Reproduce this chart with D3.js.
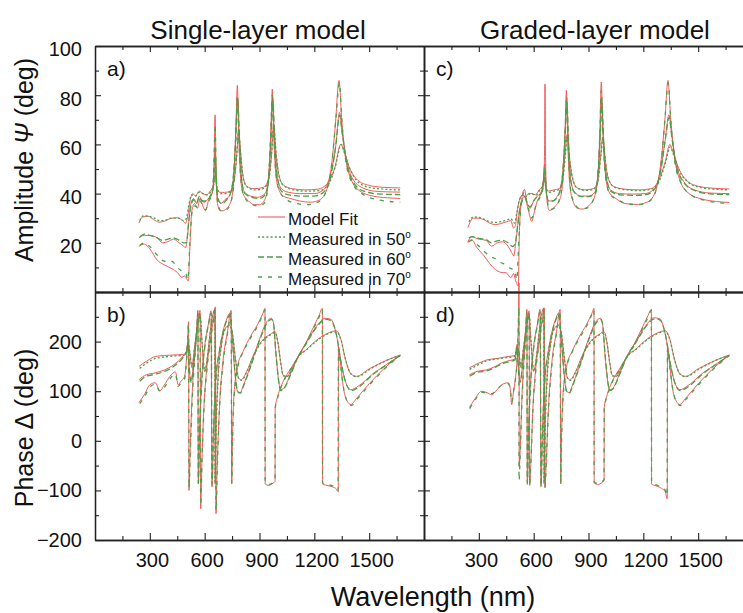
<!DOCTYPE html>
<html><head><meta charset="utf-8">
<script src="https://cdn.jsdelivr.net/npm/d3@7"></script>
<style>body{margin:0;background:#fff}svg{display:block}</style>
</head><body><svg id="c" width="743" height="613"></svg>
<script>
// ---------------- DATA ----------------
const panelTitles = ["Single-layer model", "Graded-layer model"];
const panelLetters = ["a)", "b)", "c)", "d)"];
const wavelengthTicks = [300, 600, 900, 1200, 1500];
const wavelengthMinor = [150, 450, 750, 1050, 1350, 1650];
const psiTicks = [20, 40, 60, 80, 100];
const psiMinor = [10, 30, 50, 70, 90];
const deltaTicks = [-200, -100, 0, 100, 200];
const deltaMinor = [-150, -50, 50, 150, 250];
const legendLabels = ["Model Fit", "Measured in 50", "Measured in 60", "Measured in 70"];

// Panel a : Psi, single-layer model
const psiSingleFit70 = [[240,18.5],[270,19.5],[300,17.5],[340,13],[380,11],[420,9.5],[450,8],[475,6],[490,6.5],[500,5.5],[510,4.5],[520,20],[530,33],[545,36],[560,34],[575,38],[590,35],[605,33],[620,37],[635,39],[645,42],[652,55],[657,72],[662,50],[670,36],[685,33],[700,33],[720,34],[740,36],[755,42],[765,55],[772,70],[779,84],[786,65],[795,48],[810,40],[840,37],[870,35.5],[900,35.5],[925,37],[945,43],[958,58],[965,72],[970,82.5],[976,68],[985,52],[1000,43],[1030,39],[1070,38],[1120,37],[1180,36.5],[1230,37.5],[1270,42],[1295,52],[1315,68],[1335,86],[1350,70],[1370,55],[1400,46],[1450,41],[1520,39],[1600,38.3],[1670,38]];
const psiSingleFit60 = [[240,22],[270,23],[300,23],[340,22],[370,20],[400,20.5],[430,21.5],[460,20],[480,19],[495,18],[505,22],[515,30],[525,36],[540,38],[555,36],[570,39],[585,37],[600,36.5],[620,38],[640,40],[650,46],[657,58],[664,44],[675,37],[690,36],[710,37.5],[735,39],[755,45],[768,60],[780,79],[790,62],[800,48],[815,41],[850,39],[890,38.5],[930,40],[950,46],[962,62],[972,79],[982,62],[995,48],[1020,42],[1060,40.5],[1120,40],[1200,40],[1250,41.5],[1285,47],[1315,58],[1338,73],[1350,66],[1375,54],[1410,46],[1460,42.5],[1530,41],[1600,40.7],[1670,40.6]];
const psiSingleFit50 = [[240,28],[260,30.5],[290,30.8],[320,29.5],[350,28.4],[380,28.8],[410,29.8],[450,30.2],[480,29],[495,28],[505,30],[520,37],[535,40],[550,39],[570,41],[590,40],[610,39.5],[630,41],[648,43],[658,48],[668,42],[685,40.5],[710,40.5],[740,41],[760,45],[775,55],[785,66],[795,58],[810,47],[830,43],[870,42],[920,42.5],[950,46],[965,55],[977,68],[990,57],[1005,48],[1030,43.5],[1080,42],[1150,41.5],[1220,41.8],[1270,44],[1310,50],[1345,60],[1360,58],[1390,51],[1430,46],[1490,43.5],[1570,42.6],[1670,42.3]];
const psiSingleMeas70 = [[245,19],[270,20],[300,18.5],[340,15],[380,12.5],[420,12.5],[450,10],[475,8.5],[495,8],[508,5],[518,18],[530,32],[545,35],[560,34.5],[575,37],[590,35],[605,33.5],[620,36.5],[640,40],[650,50],[657,68],[663,48],[672,36],[690,33],[720,33.5],[745,37],[760,44],[770,60],[779,80],[787,63],[797,47],[815,39],[850,36],[890,35],[925,36],[945,42],[960,62],[970,80],[978,66],[990,48],[1010,41],[1050,37.5],[1100,36],[1160,35.5],[1220,36.5],[1265,41],[1295,52],[1320,72],[1337,85],[1352,68],[1375,52],[1410,44],[1470,39.5],[1550,37.5],[1670,36.5]];
const psiSingleMeas60 = [[245,22.5],[270,23.5],[300,23],[340,22],[370,21],[400,21.5],[430,22],[460,21],[485,20],[500,20],[512,28],[525,35],[540,37.5],[555,36],[570,38.5],[590,37],[610,37],[630,39],[645,42],[653,50],[658,56],[665,43],[678,37],[695,36],[720,37.5],[745,41],[760,50],[772,66],[781,78],[791,61],[802,46],[820,40],[860,38.5],[900,38],[935,40],[952,48],[964,64],[973,78],[983,61],[997,47],[1020,41],[1060,39.5],[1130,39],[1200,39],[1250,40.5],[1290,47],[1318,60],[1339,72],[1352,65],[1378,52],[1415,44.5],[1470,41],[1560,39.8],[1670,39.6]];
const psiSingleMeas50 = [[245,29],[265,31],[295,30.8],[325,30],[355,29],[385,29.2],[415,30],[455,30],[485,29],[500,30],[515,36],[530,39.5],[550,39],[570,40.5],[590,40],[615,39.5],[635,41],[650,44],[659,49],[669,42],[688,40],[715,40],[742,41],[762,46],[776,56],[786,65],[796,57],[812,46],[835,42.5],[875,41.5],[920,42],[950,45.5],[966,56],[978,67],[991,56],[1007,47],[1035,43],[1090,41.5],[1160,41],[1225,41.2],[1275,43.5],[1315,51],[1347,60],[1362,57],[1395,50],[1435,45],[1500,42.5],[1580,41.8],[1670,41.5]];

// Panel b : Delta, single-layer model
const deltaSingleFit70 = [[240,77],[270,93],[300,113],[330,117],[355,101],[380,113],[410,130],[440,139],[455,113],[470,120],[490,130],[505,190],[512,240],[514,-100],[520,-30],[530,80],[545,170],[560,230],[575,263],[578,-137],[585,-40],[595,60],[610,140],[630,200],[650,250],[658,270],[662,-147],[668,-60],[680,60],[700,160],[725,220],[745,263],[748,-87],[752,0],[760,90],[780,150],[810,180],[850,210],[890,235],[920,258],[930,267],[931,-87],[950,-90],[975,-85],[985,-82],[986,67],[1000,90],[1030,120],[1070,145],[1107,167],[1150,195],[1190,225],[1225,252],[1244,267],[1245,-87],[1270,-90],[1300,-93],[1320,-97],[1331,-103],[1332,190],[1345,150],[1360,105],[1380,80],[1400,73],[1430,85],[1500,115],[1580,145],[1670,173]];
const deltaSingleFit60 = [[240,123],[280,133],[330,137],[380,143],[430,153],[480,170],[500,180],[510,200],[515,150],[525,120],[540,160],[555,220],[563,263],[565,-87],[572,20],[585,130],[600,190],[620,235],[635,262],[640,-93],[648,20],[660,120],[680,180],[700,220],[720,245],[738,257],[750,210],[765,140],[780,100],[795,97],[810,110],[850,150],[900,205],[940,240],[965,247],[975,240],[990,175],[1005,120],[1015,103],[1030,105],[1070,135],[1107,167],[1160,200],[1210,230],[1260,247],[1290,245],[1320,215],[1345,160],[1370,120],[1400,103],[1440,110],[1520,135],[1600,155],[1670,173]];
const deltaSingleFit50 = [[240,150],[280,160],[330,170],[380,172],[430,173],[480,174],[500,180],[510,200],[518,180],[530,150],[545,190],[560,230],[575,255],[585,200],[600,140],[615,170],[630,220],[645,255],[655,265],[657,-87],[662,20],[672,120],[690,190],[710,225],[735,233],[750,220],[770,160],[785,127],[800,123],[830,140],[870,175],[910,200],[960,215],[985,220],[1000,200],[1015,160],[1030,132],[1050,130],[1080,148],[1107,167],[1160,185],[1220,205],[1280,218],[1320,222],[1345,205],[1370,165],[1400,135],[1430,130],[1500,145],[1600,163],[1670,173]];
const deltaSingleMeas70 = [[245,75],[270,88],[300,108],[330,114],[355,100],[380,108],[410,125],[440,135],[455,110],[470,116],[490,125],[505,185],[512,235],[514,-95],[521,-25],[532,82],[547,172],[562,232],[575,258],[578,-130],[586,-35],[596,62],[612,142],[632,202],[650,248],[658,265],[662,-140],[669,-55],[681,62],[702,160],[726,218],[745,258],[748,-85],[753,5],[762,92],[782,150],[812,180],[852,208],[892,233],[920,256],[930,264],[931,-85],[950,-88],[975,-84],[985,-80],[986,65],[1002,90],[1032,120],[1072,145],[1107,166],[1152,194],[1192,224],[1227,250],[1244,264],[1245,-85],[1270,-88],[1300,-91],[1320,-95],[1330,-100],[1332,185],[1346,145],[1362,102],[1382,78],[1402,71],[1432,83],[1502,113],[1582,144],[1670,172]];
const deltaSingleMeas60 = [[245,120],[280,130],[330,134],[380,140],[430,150],[480,167],[500,177],[510,196],[516,148],[526,118],[541,160],[556,218],[563,258],[565,-85],[573,22],[586,130],[601,190],[621,234],[636,258],[640,-88],[649,22],[661,120],[681,180],[701,219],[721,243],[738,254],[751,208],[766,138],[781,99],[796,96],[812,110],[852,150],[902,204],[942,238],[965,245],[976,238],[991,172],[1006,118],[1016,101],[1032,104],[1072,135],[1107,166],[1162,200],[1212,229],[1262,245],[1290,243],[1322,212],[1347,157],[1372,117],[1402,101],[1442,108],[1522,134],[1602,155],[1670,172]];
const deltaSingleMeas50 = [[245,146],[280,156],[330,166],[380,169],[430,171],[480,172],[500,178],[510,197],[519,178],[531,148],[546,190],[561,229],[575,252],[586,198],[601,140],[616,170],[631,219],[646,253],[655,262],[657,-85],[663,22],[673,120],[691,190],[711,224],[736,231],[751,218],[771,158],[786,126],[801,122],[832,140],[872,175],[912,199],[962,214],[985,218],[1001,198],[1016,158],[1031,131],[1052,130],[1082,148],[1107,166],[1162,185],[1222,204],[1282,217],[1320,220],[1346,203],[1371,163],[1402,134],[1432,129],[1502,144],[1602,163],[1670,172]];

// Panel c : Psi, graded-layer model
const psiGradedFit70 = [[240,20],[260,21.3],[290,18],[330,14.6],[360,11.5],[390,9.2],[420,8],[450,7.8],[475,5.8],[490,7.5],[500,5],[510,3],[516,2.4],[522,25],[535,38],[550,41.7],[562,36],[575,32],[590,28.7],[605,33],[620,37],[640,40],[655,45],[660,60],[662,84.5],[665,55],[672,38],[685,33.2],[700,33.5],[720,35],[745,38],[762,48],[772,65],[779,82],[787,60],[797,44],[815,37],[840,34],[870,33.7],[900,35],[930,38],[950,46],[962,65],[970,85.4],[978,66],[990,50],[1010,41],[1050,38],[1100,36],[1160,35.6],[1220,36.5],[1265,40.5],[1295,52],[1318,70],[1335,86],[1350,70],[1370,55],[1400,45.5],[1450,40],[1520,37.8],[1600,36.8],[1670,36.4]];
const psiGradedFit60 = [[240,20.4],[260,22.4],[300,21.5],[340,21],[370,18.6],[400,20],[430,20.4],[460,18.6],[480,16],[492,14.6],[500,19],[510,25],[522,33],[535,37],[550,39],[565,36],[580,34],[600,37],[620,39],[640,40.5],[652,44],[660,52],[667,42],[680,37],[700,37],[725,38.5],[750,43],[765,55],[775,70],[781,79],[790,62],[800,47],[820,41],[860,39],[900,39],[935,40.5],[952,48],[963,62],[972,78],[982,62],[995,48],[1020,41.5],[1070,40],[1140,39.8],[1210,40],[1260,42],[1295,50],[1320,62],[1340,72],[1355,64],[1380,52],[1420,45],[1480,41.5],[1570,40.2],[1670,40]];
const psiGradedFit50 = [[240,26.1],[270,30],[300,30],[330,29.3],[360,28],[390,27.4],[420,27.8],[450,28.5],[475,29],[490,26],[500,27],[510,33],[525,38],[540,39.5],[555,38.5],[570,40],[590,40],[610,39.5],[630,41.5],[648,43],[657,47],[665,43],[680,41],[710,41.5],[740,42],[758,46],[772,56],[783,64],[794,56],[810,47],[835,42.5],[880,41.5],[925,42],[950,45],[966,55],[978,63],[990,55],[1005,47],[1035,43],[1100,41.8],[1180,41.5],[1240,42],[1285,45.5],[1320,53],[1345,60],[1362,57],[1395,50],[1435,45.5],[1500,43],[1580,42.2],[1670,41.9]];
const psiGradedMeas70 = [[245,20.5],[265,21],[295,19],[330,16.5],[360,14.6],[390,13.5],[420,12],[450,11],[475,9.5],[495,9],[508,5],[518,20],[532,36],[548,40.5],[562,36.5],[575,33],[590,30],[605,33.5],[620,36.5],[640,39.5],[655,44],[660,51],[665,46],[673,38],[688,33.5],[710,34],[740,37.5],[760,46],[771,62],[779,78],[788,60],[800,43],[820,36.5],[850,34],[885,34],[920,36.5],[948,44],[962,64],[970,82],[979,64],[992,48],[1015,40],[1060,37.5],[1120,35.8],[1180,35.5],[1235,37],[1270,41.5],[1300,54],[1320,72],[1336,85],[1351,69],[1372,53],[1405,44.5],[1460,39.5],[1540,37.2],[1670,36]];
const psiGradedMeas60 = [[245,22],[265,22.5],[300,21.8],[340,21.3],[370,20],[400,20.8],[430,21],[460,20],[485,18.5],[500,20],[512,27],[525,34],[540,37.5],[552,38.5],[566,36],[580,34.5],[600,37],[620,38.8],[640,40],[653,44.5],[660,50],[668,42],[682,37],[705,37],[730,38.5],[752,44],[766,56],[776,70],[782,77],[791,60],[802,46],[822,40.5],[860,38.8],[900,38.8],[935,40.2],[953,48.5],[964,63],[973,77],[983,61],[997,47],[1022,41],[1075,39.5],[1150,39.3],[1215,39.6],[1262,41.8],[1297,50],[1322,63],[1341,71],[1356,63],[1382,51],[1425,44.2],[1490,41],[1580,39.8],[1670,39.6]];
const psiGradedMeas50 = [[245,28.5],[270,30.5],[300,30.3],[330,29.5],[360,28.6],[390,28.3],[420,28.6],[450,29.2],[475,29.8],[495,28],[508,32],[522,37.5],[540,39.3],[556,38.6],[572,39.8],[592,39.8],[612,39.3],[632,41.2],[650,43.2],[659,46],[667,42.5],[684,40.5],[712,41],[742,41.8],[760,46],[774,56],[784,63],[795,55],[812,46.5],[838,42.3],[885,41.3],[928,41.8],[952,45],[967,55],[979,62],[991,54],[1007,46.5],[1040,42.7],[1110,41.5],[1190,41.2],[1245,41.8],[1290,45.5],[1323,53],[1347,59],[1364,56],[1398,49],[1440,45],[1510,42.5],[1590,41.8],[1670,41.5]];

// Panel d : Delta, graded-layer model
const deltaGradedFit70 = [[248,67],[280,85],[315,100],[345,97],[370,93],[400,103],[425,113],[461,117],[472,105],[480,73],[490,100],[500,125],[510,170],[516,235],[520,318],[521,-53],[527,-10],[535,80],[548,170],[562,230],[575,262],[578,-90],[585,-40],[595,60],[610,140],[630,200],[650,250],[658,268],[662,-95],[668,-50],[680,60],[700,160],[725,220],[745,265],[748,-87],[752,0],[760,90],[780,150],[810,180],[850,210],[890,235],[920,258],[930,267],[931,-85],[950,-88],[975,-84],[985,-80],[986,67],[1000,90],[1030,120],[1070,145],[1107,168],[1150,195],[1190,225],[1225,252],[1244,265],[1245,-87],[1270,-91],[1300,-96],[1320,-103],[1331,-117],[1332,190],[1345,150],[1360,105],[1380,80],[1400,73],[1430,85],[1500,115],[1580,145],[1670,173]];
const deltaGradedFit60 = [[248,133],[290,140],[343,143],[390,150],[425,157],[470,162],[498,165],[510,190],[516,150],[526,120],[541,160],[555,220],[563,265],[565,-88],[572,20],[585,130],[600,190],[620,235],[635,265],[640,-93],[648,20],[660,120],[680,180],[700,220],[720,245],[738,258],[750,210],[765,140],[780,100],[795,97],[810,110],[850,150],[900,205],[940,240],[965,247],[975,240],[990,175],[1005,120],[1015,103],[1030,105],[1070,135],[1107,168],[1160,200],[1210,230],[1260,248],[1290,246],[1320,215],[1345,160],[1370,120],[1400,103],[1440,110],[1520,135],[1600,155],[1670,173]];
const deltaGradedFit50 = [[248,147],[290,155],[343,163],[400,166],[461,170],[498,172],[510,195],[518,180],[530,150],[545,190],[560,230],[575,258],[585,200],[600,140],[615,170],[630,220],[645,258],[655,268],[657,-87],[662,20],[672,120],[690,190],[710,225],[735,233],[750,220],[770,160],[785,127],[800,123],[830,140],[870,175],[910,200],[960,215],[985,220],[1000,200],[1015,160],[1030,132],[1050,130],[1080,148],[1107,168],[1160,185],[1220,205],[1280,218],[1320,222],[1345,205],[1370,165],[1400,135],[1430,130],[1500,145],[1600,163],[1670,173]];
const deltaGradedMeas70 = [[250,65],[280,83],[315,98],[345,96],[370,95],[400,104],[425,112],[461,115],[472,104],[480,78],[490,100],[500,123],[510,168],[516,230],[519,270],[520,-80],[527,-20],[536,78],[549,168],[563,228],[575,258],[578,-88],[586,-35],[596,62],[612,142],[632,202],[650,248],[658,264],[662,-92],[669,-45],[681,62],[702,160],[726,218],[745,262],[748,-85],[753,5],[762,92],[782,150],[812,180],[852,208],[892,233],[920,256],[930,264],[931,-83],[950,-86],[975,-82],[985,-78],[986,65],[1002,90],[1032,120],[1072,145],[1107,167],[1152,194],[1192,224],[1227,250],[1244,263],[1245,-85],[1270,-89],[1300,-94],[1320,-100],[1330,-110],[1332,185],[1346,145],[1362,102],[1382,78],[1402,71],[1432,83],[1502,113],[1582,144],[1670,172]];
const deltaGradedMeas60 = [[250,130],[290,138],[343,141],[390,148],[425,155],[470,160],[498,163],[510,186],[516,148],[526,118],[541,160],[556,218],[563,260],[565,-85],[573,22],[586,130],[601,190],[621,234],[636,260],[640,-90],[649,22],[661,120],[681,180],[701,219],[721,243],[738,255],[751,208],[766,138],[781,99],[796,96],[812,110],[852,150],[902,204],[942,238],[965,245],[976,238],[991,172],[1006,118],[1016,101],[1032,104],[1072,135],[1107,167],[1162,200],[1212,229],[1262,246],[1290,244],[1322,212],[1347,157],[1372,117],[1402,101],[1442,108],[1522,134],[1602,155],[1670,172]];
const deltaGradedMeas50 = [[250,144],[290,152],[343,161],[400,165],[461,168],[498,170],[510,192],[519,178],[531,148],[546,190],[561,229],[575,254],[586,198],[601,140],[616,170],[631,219],[646,255],[655,264],[657,-85],[663,22],[673,120],[691,190],[711,224],[736,231],[751,218],[771,158],[786,126],[801,122],[832,140],[872,175],[912,199],[962,214],[985,218],[1001,198],[1016,158],[1031,131],[1052,130],[1082,148],[1107,167],[1162,185],[1222,204],[1282,217],[1320,220],[1346,203],[1371,163],[1402,134],[1432,129],[1502,144],[1602,163],[1670,172]];

// ---------------- DRAW ----------------
const FONT = "'Liberation Sans', Arial, Helvetica, sans-serif";
const RED = "#f04a4a", GREEN = "#48a048";
const dashes = {m50: "2,2.2", m60: "6,3", m70: "4,6"};
const svg = d3.select("#c").style("font-family", FONT);

const xLeft = d3.scaleLinear().domain([0, 1800]).range([95, 424]);
const xRight = d3.scaleLinear().domain([0, 1800]).range([424, 753]);
const yPsi = d3.scaleLinear().domain([0, 100]).range([292, 46]);
const yDelta = d3.scaleLinear().domain([-200, 300]).range([540, 292]);

const panels = [
  {x: xLeft, y: yPsi, top: true, labels: true, letter: panelLetters[0],
   fits: [psiSingleFit50, psiSingleFit60, psiSingleFit70], meas: [psiSingleMeas50, psiSingleMeas60, psiSingleMeas70]},
  {x: xLeft, y: yDelta, top: false, labels: true, letter: panelLetters[1],
   fits: [deltaSingleFit50, deltaSingleFit60, deltaSingleFit70], meas: [deltaSingleMeas50, deltaSingleMeas60, deltaSingleMeas70]},
  {x: xRight, y: yPsi, top: true, labels: false, letter: panelLetters[2],
   fits: [psiGradedFit50, psiGradedFit60, psiGradedFit70], meas: [psiGradedMeas50, psiGradedMeas60, psiGradedMeas70]},
  {x: xRight, y: yDelta, top: false, labels: false, letter: panelLetters[3],
   fits: [deltaGradedFit50, deltaGradedFit60, deltaGradedFit70], meas: [deltaGradedMeas50, deltaGradedMeas60, deltaGradedMeas70]},
];

function styleAxis(g) {
  g.attr("font-family", FONT).attr("font-size", 20);
  g.selectAll(".domain").attr("stroke", "#222").attr("stroke-width", 1.3);
  g.selectAll(".tick line").attr("stroke", "#222").attr("stroke-width", 1.1);
  g.selectAll(".tick text").attr("fill", "#111");
}

panels.forEach(p => {
  const [x0, x1] = p.x.range();
  const [yb, yt] = p.y.range();
  const yMaj = p.top ? psiTicks : deltaTicks.concat([300]);
  const yMin = p.top ? psiMinor : deltaMinor;
  const g = svg.append("g");

  const line = d3.line().x(d => p.x(d[0])).y(d => p.y(d[1])).curve(d3.curveMonotoneX);
  p.fits.forEach(s => g.append("path").attr("d", line(s)).attr("fill", "none")
    .attr("stroke", RED).attr("stroke-width", 1).attr("stroke-opacity", 0.9));
  const dk = ["m50", "m60", "m70"];
  p.meas.forEach((s, i) => g.append("path").attr("d", line(s)).attr("fill", "none")
    .attr("stroke", GREEN).attr("stroke-width", 1.3).attr("stroke-dasharray", dashes[dk[i]]));

  const la = g.append("g").attr("transform", `translate(${x0},0)`)
    .call(d3.axisLeft(p.y).tickValues(p.labels ? (p.top ? psiTicks : deltaTicks) : yMaj)
      .tickSizeInner(-6).tickSizeOuter(0).tickPadding(13).tickFormat(p.labels ? d3.format("d") : ""));
  if (p.top) la.selectAll(".tick text").attr("transform", "translate(0,3.5)");
  styleAxis(la);
  styleAxis(g.append("g").attr("transform", `translate(${x0},0)`)
    .call(d3.axisLeft(p.y).tickValues(yMin).tickSizeInner(-4).tickSizeOuter(0).tickFormat("")));
  styleAxis(g.append("g").attr("transform", `translate(${x1},0)`)
    .call(d3.axisRight(p.y).tickValues(yMaj).tickSizeInner(-6).tickSizeOuter(0).tickFormat("")));
  styleAxis(g.append("g").attr("transform", `translate(${x1},0)`)
    .call(d3.axisRight(p.y).tickValues(yMin).tickSizeInner(-4).tickSizeOuter(0).tickFormat("")));
  styleAxis(g.append("g").attr("transform", `translate(0,${yt})`)
    .call(d3.axisTop(p.x).tickValues(wavelengthTicks).tickSizeInner(-6).tickSizeOuter(0).tickFormat("")));
  styleAxis(g.append("g").attr("transform", `translate(0,${yt})`)
    .call(d3.axisTop(p.x).tickValues(wavelengthMinor).tickSizeInner(-4).tickSizeOuter(0).tickFormat("")));
  const ba = g.append("g").attr("transform", `translate(0,${yb})`)
    .call(d3.axisBottom(p.x).tickValues(wavelengthTicks).tickSizeInner(-7).tickSizeOuter(0).tickPadding(13)
      .tickFormat(p.top ? "" : d3.format("d")));
  ba.selectAll(".tick text").attr("transform", "translate(2,0)");
  styleAxis(ba);
  styleAxis(g.append("g").attr("transform", `translate(0,${yb})`)
    .call(d3.axisBottom(p.x).tickValues(wavelengthMinor).tickSizeInner(-4).tickSizeOuter(0).tickFormat("")));

  g.append("text").attr("x", x0 + 12).attr("y", yt + 30).attr("font-size", 21).attr("fill", "#111").text(p.letter);
});

svg.append("text").attr("x", 258).attr("y", 39).attr("text-anchor", "middle").attr("font-size", 26)
  .attr("fill", "#111").text(panelTitles[0]);
svg.append("text").attr("x", 595).attr("y", 39).attr("text-anchor", "middle").attr("font-size", 26)
  .attr("fill", "#111").text(panelTitles[1]);

svg.append("text").attr("transform", "translate(33,160) rotate(-90)").attr("text-anchor", "middle")
  .attr("font-size", 25).attr("fill", "#111")
  .call(t => { t.append("tspan").text("Amplitude "); t.append("tspan").attr("font-style", "italic").text("Ψ"); t.append("tspan").text(" (deg)"); });
svg.append("text").attr("transform", "translate(33,428) rotate(-90)").attr("text-anchor", "middle")
  .attr("font-size", 25).attr("fill", "#111").text("Phase Δ (deg)");
svg.append("text").attr("x", 433).attr("y", 606).attr("text-anchor", "middle").attr("font-size", 27)
  .attr("fill", "#111").text("Wavelength (nm)");

const leg = svg.append("g");
const legStyles = [
  {stroke: RED, dash: null, w: 1},
  {stroke: GREEN, dash: dashes.m50, w: 1.3},
  {stroke: GREEN, dash: dashes.m60, w: 1.3},
  {stroke: GREEN, dash: dashes.m70, w: 1.3},
];
legendLabels.forEach((lab, i) => {
  const by = 225 + i * 20;
  leg.append("line").attr("x1", 258).attr("x2", 285).attr("y1", by - 8).attr("y2", by - 8)
    .attr("stroke", legStyles[i].stroke).attr("stroke-width", legStyles[i].w)
    .attr("stroke-dasharray", legStyles[i].dash);
  const t = leg.append("text").attr("x", 288).attr("y", by).attr("font-size", 17).attr("fill", "#111").text(lab);
  if (i > 0) t.append("tspan").attr("font-size", 10).attr("dy", -7).text("o");
});
</script></body></html>
